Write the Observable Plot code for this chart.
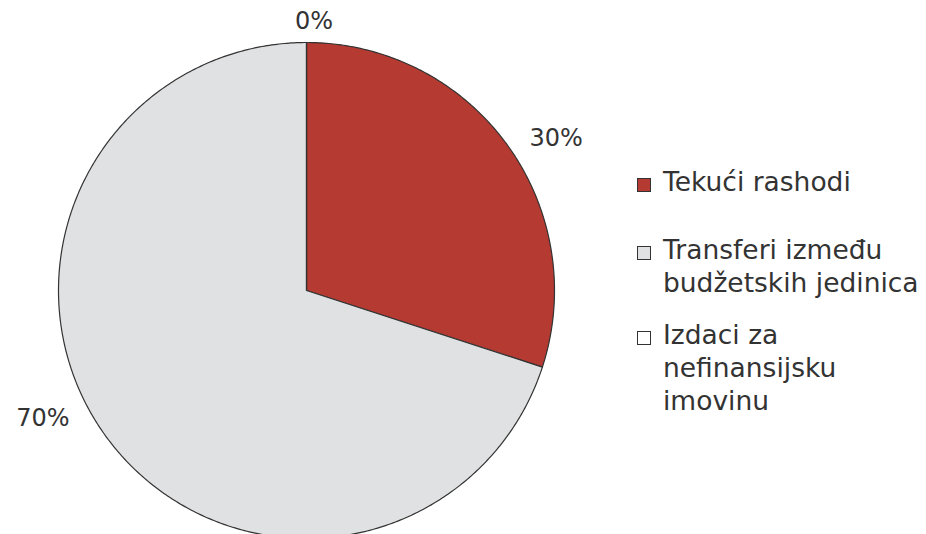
<!DOCTYPE html>
<html>
<head>
<meta charset="utf-8">
<script src="https://cdn.jsdelivr.net/npm/d3@7"></script>
<script src="https://cdn.jsdelivr.net/npm/@observablehq/plot@0.6"></script>
<style>
  html, body { margin: 0; padding: 0; background: #fff; }
  #wrap { position: relative; width: 926px; height: 534px; overflow: hidden; font-family: "DejaVu Sans", sans-serif; color: #333; }
  #legend { position: absolute; left: 637px; top: 0; }
  .item { position: absolute; left: 0; display: flex; align-items: flex-start; font-size: 26.5px; line-height: 33px; white-space: nowrap; }
  .sw { width: 12px; height: 12px; border: 1px solid #333; margin-right: 12px; margin-top: 13px; flex: none; }
</style>
</head>
<body>
<div id="wrap"></div>
<script>
const categories = ["Tekući rashodi", "Transferi između budžetskih jedinica", "Izdaci za nefinansijsku imovinu"];
const legendLines = [["Tekući rashodi"], ["Transferi između", "budžetskih jedinica"], ["Izdaci za", "nefinansijsku", "imovinu"]];
const values = [30, 70, 0];
const labels = ["30%", "70%", "0%"];
const colors = ["#b53a31", "#e0e1e3", "#ffffff"];

const pie = d3.pie().sort(null).value(d => d)(values);

// build slice outlines in unit coordinates
const slicePts = [];
pie.forEach((p, i) => {
  const n = Math.max(2, Math.ceil((p.endAngle - p.startAngle) / 0.01));
  slicePts.push({cat: categories[i], x: 0, y: 0, fill: colors[i]});
  for (let k = 0; k <= n; k++) {
    const a = p.startAngle + (p.endAngle - p.startAngle) * k / n;
    slicePts.push({cat: categories[i], x: Math.sin(a), y: Math.cos(a), fill: colors[i]});
  }
  slicePts.push({cat: categories[i], x: 0, y: 0, fill: colors[i]});
});

// labels: placed just outside the arc
const labelPts = pie.map((p, i) => {
  const mid = (p.startAngle + p.endAngle) / 2;
  const a = mid + 0.082;
  const s = Math.sin(a), c = Math.cos(a);
  const side = Math.abs(Math.sin(mid)) < 0.2 ? "middle" : (s > 0 ? "start" : "end");
  const r = side === "middle" ? 1.09 : 1.085;
  return {label: labels[i], x: side === "middle" ? Math.sin(mid) * r + 0.03 : s * r, y: c * r, anchor: side};
});

const chart = Plot.plot({
  width: 926,
  height: 534,
  x: {domain: [-1, 1], range: [58, 554], axis: null},
  y: {domain: [-1, 1], range: [538, 42], axis: null},
  style: {fontFamily: "DejaVu Sans, sans-serif"},
  marks: [
    Plot.line(slicePts, {x: "x", y: "y", z: "cat", fill: "fill", stroke: "#333", strokeWidth: 1.2, curve: "linear"}),
    ...["start", "middle", "end"].map(anc =>
      Plot.text(labelPts.filter(d => d.anchor === anc), {
        x: "x", y: "y", text: "label", fontSize: 24, fill: "#333", textAnchor: anc, lineAnchor: "middle",
        dx: anc === "middle" ? 0 : -7, dy: anc === "middle" ? 0 : -12
      }))
  ]
});
const wrap = document.getElementById("wrap");
wrap.appendChild(chart);

const legend = document.createElement("div");
legend.id = "legend";
const tops = [165, 233, 318];
legendLines.forEach((lines, i) => {
  const it = document.createElement("div");
  it.className = "item";
  it.style.top = tops[i] + "px";
  const sw = document.createElement("div");
  sw.className = "sw";
  sw.style.background = colors[i];
  const tx = document.createElement("div");
  tx.innerHTML = lines.join("<br>");
  it.appendChild(sw); it.appendChild(tx);
  legend.appendChild(it);
});
wrap.appendChild(legend);
</script>
</body>
</html>
